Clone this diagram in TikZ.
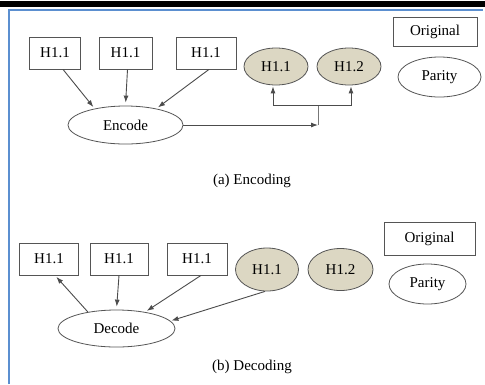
\documentclass[tikz,border=0pt]{standalone}
\usepackage{fontspec}
\setmainfont{Liberation Serif}
\usetikzlibrary{shapes.geometric,arrows.meta,calc}
\definecolor{gfill}{HTML}{DCD7C3}
\definecolor{frameblue}{HTML}{5B8FD0}
\definecolor{lin}{HTML}{555555}
\begin{document}
\begin{tikzpicture}[x=1pt,y=-1pt,
  font=\fontsize{15}{18}\selectfont,
  bx/.style={draw=lin,line width=0.8pt,inner sep=0pt,minimum height=32pt},
  el/.style={ellipse,draw=lin,line width=0.8pt,inner sep=0pt},
  gel/.style={el,fill=gfill},
  arr/.style={draw=lin!90!black,line width=0.9pt,-{Latex[length=7pt,width=5pt]}},
  ln/.style={draw=lin!80,line width=1pt}]
\useasboundingbox (0,0) rectangle (485,384);
\fill[white] (0,0) rectangle (485,384);
% top black bar and blue frame
\fill[black] (0,1) rectangle (485,7);
\draw[frameblue,line width=2pt] (9,384) -- (9,10) -- (483,10);
% ---- (a) Encoding ----
\node[bx,minimum width=51pt] (a1) at (55,53) {H1.1};
\node[bx,minimum width=53pt] (a2) at (125.5,53) {H1.1};
\node[bx,minimum width=60pt] (a3) at (206,53) {H1.1};
\node[gel,minimum width=64pt,minimum height=37pt] (ag1) at (276,66.5) {H1.1};
\node[gel,minimum width=64pt,minimum height=37pt] (ag2) at (349,66.5) {H1.2};
\node[bx,minimum width=84pt,minimum height=29pt] (ao) at (435,31.5) {Original};
\node[el,minimum width=83pt,minimum height=40pt] (ap) at (439.5,77) {Parity};
\node[el,minimum width=115pt,minimum height=38pt] (enc) at (125.5,125) {Encode};
\coordinate (aj) at (318,125);
\coordinate (am) at (318,105);
\draw[arr,shorten >=2pt] ([xshift=8pt]a1.south) -- (enc.152);
\draw[arr,shorten >=3pt] ([xshift=2pt]a2.south) -- (enc.north);
\draw[arr,shorten >=2pt] ([xshift=3pt]a3.south) -- (enc.28);
\draw[arr] (enc.east) -- (aj);
\draw[ln] (aj) -- (am);
\draw[arr,shorten >=1pt] (am) -| ([xshift=-3pt]ag1.south);
\draw[arr,shorten >=1pt] (am) -| ([xshift=2pt]ag2.south);
\node (capa) at (252,181) {(a) Encoding};
% ---- (b) Decoding ----
\node[bx,minimum width=59pt] (b1) at (49,259) {H1.1};
\node[bx,minimum width=58pt] (b2) at (119,259) {H1.1};
\node[bx,minimum width=60pt] (b3) at (197,259) {H1.1};
\node[gel,minimum width=63pt,minimum height=43pt] (bg1) at (267,269.5) {H1.1};
\node[gel,minimum width=65pt,minimum height=42pt] (bg2) at (340.5,269.5) {H1.2};
\node[bx,minimum width=91pt,minimum height=33pt] (bo) at (429.5,239) {Original};
\node[el,minimum width=77pt,minimum height=40pt] (bp) at (427.5,284) {Parity};
\node[el,minimum width=117pt,minimum height=37pt] (dec) at (116.5,328.5) {Decode};
\draw[arr,shorten >=2pt] (dec.150) -- ([xshift=6pt]b1.south);
\draw[arr,shorten >=3pt] (b2.south) -- (dec.north);
\draw[arr,shorten >=2pt] ([xshift=4pt]b3.south) -- (dec.30);
\draw[arr,shorten >=1pt] ([xshift=-2pt]bg1.south) -- (dec.8);
\node (capb) at (252,367) {(b) Decoding};
\end{tikzpicture}
\end{document}
